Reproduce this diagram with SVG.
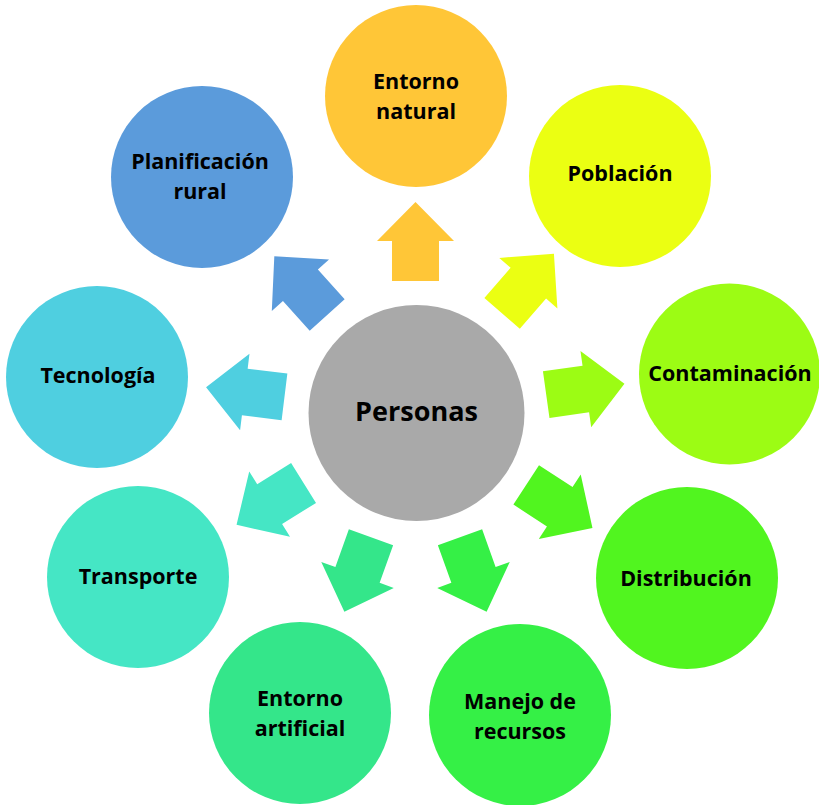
<svg xmlns="http://www.w3.org/2000/svg" width="819" height="805" viewBox="0 0 819 805">
<defs>
<style>
text{font-family:"Open Sans","Noto Sans","Liberation Sans",sans-serif;font-weight:bold;fill:#000;text-anchor:middle;font-size:21.5px}
.center text{font-size:27px}
</style>
<polygon id="arr" points="132,-23.5 172,-23.5 172,-38.5 211,0 172,38.5 172,23.5 132,23.5"/>
</defs>
<rect width="819" height="805" fill="#fff"/>
<g id="connectors">
<use href="#arr" fill="#FFC637" transform="translate(415.5,413) rotate(-90)"/>
<use href="#arr" fill="#EBFF12" transform="translate(415.5,413) rotate(-49)"/>
<use href="#arr" fill="#9CFC14" transform="translate(415.5,413) rotate(-8)"/>
<use href="#arr" fill="#51F51F" transform="translate(415.5,413) rotate(33)"/>
<use href="#arr" fill="#35F046" transform="translate(415.5,413) rotate(70.3)"/>
<use href="#arr" fill="#34E68A" transform="translate(415.5,413) rotate(109.7)"/>
<use href="#arr" fill="#45E6C5" transform="translate(415.5,413) rotate(148)"/>
<use href="#arr" fill="#4FCFE0" transform="translate(415.5,413) rotate(187)"/>
<use href="#arr" fill="#5B9BDB" transform="translate(415.5,413) rotate(228)"/>
</g>
<g id="personas" class="center">
<circle cx="416.5" cy="413" r="108" fill="#A9A9A9"/>
<text x="416.5" y="421">Personas</text>
</g>
<g id="entorno-natural">
<circle cx="416" cy="96" r="91" fill="#FFC637"/>
<text x="416" y="89">Entorno</text>
<text x="416" y="119">natural</text>
</g>
<g id="poblacion">
<circle cx="620" cy="176" r="91" fill="#EBFF12"/>
<text x="620" y="181">Población</text>
</g>
<g id="contaminacion">
<circle cx="729.5" cy="374" r="90.5" fill="#9CFC14"/>
<text x="730" y="381">Contaminación</text>
</g>
<g id="distribucion">
<circle cx="687" cy="578" r="91" fill="#51F51F"/>
<text x="686" y="586">Distribución</text>
</g>
<g id="manejo">
<circle cx="520" cy="715" r="91" fill="#35F046"/>
<text x="520" y="709">Manejo de</text>
<text x="520" y="739">recursos</text>
</g>
<g id="entorno-artificial">
<circle cx="300" cy="713" r="91" fill="#34E68A"/>
<text x="300" y="706">Entorno</text>
<text x="300" y="736">artificial</text>
</g>
<g id="transporte">
<circle cx="138" cy="577" r="91" fill="#45E6C5"/>
<text x="138" y="584">Transporte</text>
</g>
<g id="tecnologia">
<circle cx="97" cy="377" r="91" fill="#4FCFE0"/>
<text x="98" y="383">Tecnología</text>
</g>
<g id="planificacion">
<circle cx="202" cy="177" r="91" fill="#5B9BDB"/>
<text x="200" y="169">Planificación</text>
<text x="200" y="199">rural</text>
</g>
</svg>
